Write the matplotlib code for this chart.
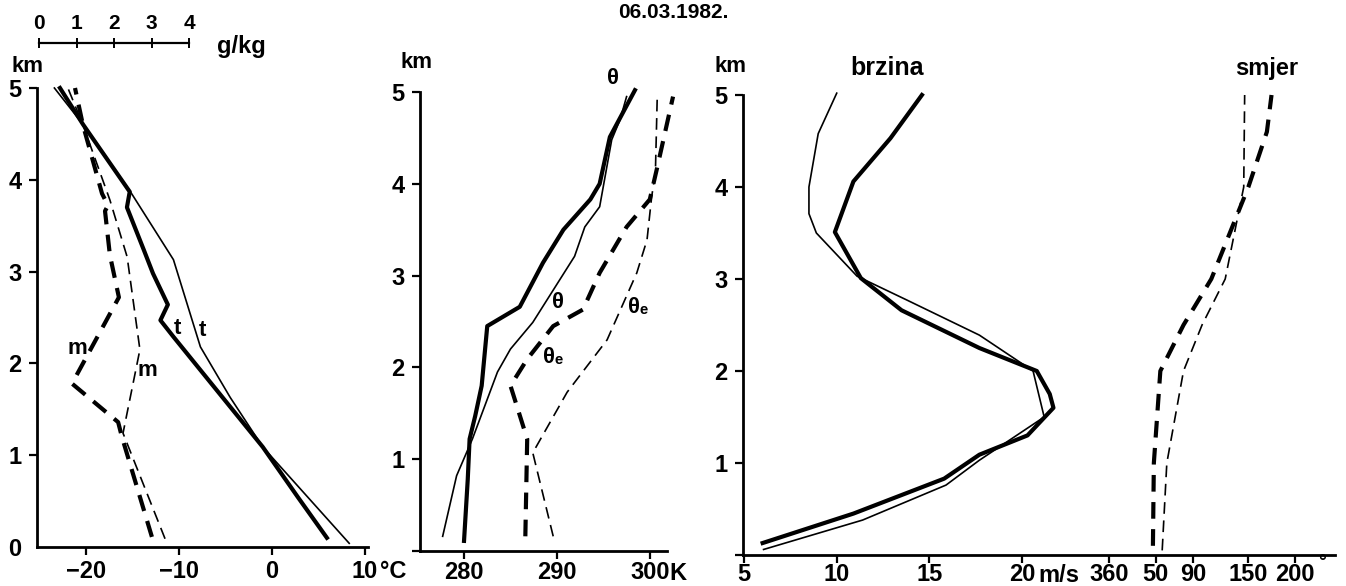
import matplotlib
matplotlib.use("Agg")
import matplotlib.pyplot as plt

# ---------------- data ----------------
# left panel: temperature (deg C) and mixing ratio (g/kg) vs height (km)
z_t_thick = [0.10, 0.54, 1.09, 2.29, 2.47, 2.64, 2.98, 3.24, 3.70, 3.87, 4.60, 5.00]
t_thick = [5.9, 2.8, -1.0, -10.6, -12.0, -11.2, -12.8, -13.8, -15.6, -15.3, -20.3, -22.8]
z_t_thin = [0.04, 1.09, 1.63, 2.18, 3.13, 3.85, 4.60, 5.00]
t_thin = [8.3, -1.0, -4.5, -7.7, -10.6, -15.1, -20.3, -23.4]
z_m_thick = [0.11, 1.20, 1.36, 1.78, 2.72, 3.18, 3.66, 3.72, 3.85, 4.60, 5.00]
m_thick = [3.09, 2.29, 2.19, 0.96, 2.21, 1.97, 1.84, 1.92, 1.76, 1.25, 1.04]
z_m_thin = [0.09, 1.24, 2.15, 3.16, 3.78, 4.60, 5.00]
m_thin = [3.44, 2.32, 2.77, 2.43, 1.97, 1.25, 0.85]

# middle panel: potential temperature (K)
z_th_thick = [0.11, 0.78, 1.22, 1.47, 1.80, 2.45, 2.66, 3.14, 3.50, 3.83, 4.00, 4.51, 5.02]
th_thick = [280.0, 280.4, 280.6, 281.2, 281.9, 282.5, 286.0, 288.5, 290.7, 293.6, 294.6, 295.7, 298.4]
z_th_thin = [0.16, 0.82, 1.22, 1.95, 2.20, 2.49, 3.21, 3.53, 3.75, 4.48, 4.70, 4.95]
th_thin = [277.7, 279.2, 280.9, 283.6, 285.0, 287.4, 291.9, 293.0, 294.6, 295.9, 296.8, 297.5]
z_the_thick = [0.16, 1.22, 1.80, 2.09, 2.45, 2.63, 3.03, 3.53, 3.83, 4.18, 4.95]
the_thick = [286.6, 286.8, 285.0, 286.8, 289.6, 292.8, 294.6, 297.5, 300.0, 300.8, 302.5]
z_the_thin = [0.16, 1.07, 1.73, 2.30, 3.03, 3.39, 3.86, 4.12, 4.95]
the_thin = [289.6, 287.4, 291.1, 295.4, 298.6, 299.7, 300.2, 300.6, 300.8]

# right panel: wind speed (m/s) and direction (deg)
z_v_thick = [0.13, 0.45, 0.83, 1.09, 1.30, 1.60, 1.75, 2.00, 2.25, 2.66, 3.01, 3.51, 4.06, 4.53, 5.00]
v_thick = [6.0, 10.9, 15.8, 17.7, 20.3, 21.7, 21.5, 20.8, 17.7, 13.5, 11.3, 9.9, 10.9, 12.9, 14.6]
z_v_thin = [0.06, 0.38, 0.76, 1.03, 1.50, 2.00, 2.39, 2.77, 3.03, 3.50, 3.71, 4.00, 4.58, 5.02]
v_thin = [6.05, 11.4, 15.9, 17.7, 21.2, 20.6, 17.7, 13.8, 11.1, 8.9, 8.5, 8.5, 9.0, 10.0]
z_d_thick = [0.10, 1.00, 2.00, 2.50, 3.00, 4.00, 4.60, 5.00]
d_thick = [47, 48, 55, 80, 110, 150, 170, 175]
z_d_thin = [0.05, 1.00, 2.00, 2.50, 3.00, 4.00, 5.00]
d_thin = [57, 62, 80, 100, 125, 145, 146]

temp_ticks = [-20, -10, 0, 10]
theta_ticks = [280, 290, 300]
speed_ticks = [5, 10, 15, 20]
dir_ticks = [0, 50, 90, 150, 200]
dir_labels = ["360", "50", "90", "150", "200"]
z_ticks = [0, 1, 2, 3, 4, 5]
scale_ticks = [0, 1, 2, 3, 4]

# ---------------- figure ----------------
W, H = 1346, 586
fig = plt.figure(figsize=(W / 100, H / 100), dpi=100)
FS = 17
FAM = ["Liberation Sans", "DejaVu Sans"]
FONT = dict(family=FAM, weight="bold")


def rect(x0, x1, ytop, ybot):
    return [x0 / W, 1 - ybot / H, (x1 - x0) / W, (ybot - ytop) / H]


def ftext(x, y, s, size=FS, ha="center", **kw):
    fig.text(x / W, 1 - y / H, s, fontsize=size, ha=ha, va="center", **FONT, **kw)


def boldify(ax):
    for lab in ax.get_xticklabels() + ax.get_yticklabels():
        lab.set_fontweight("bold")
        lab.set_family(FAM)


def style(ax, zero=True, xpad=2):
    for s in ("top", "right"):
        ax.spines[s].set_visible(False)
    for s in ("left", "bottom"):
        ax.spines[s].set_linewidth(2.0)
    ax.set_ylim(0, 5)
    ax.set_yticks(z_ticks)
    labels = [str(v) for v in z_ticks]
    if not zero:
        labels[0] = ""
    ax.set_yticklabels(labels)
    ax.tick_params(direction="out", length=6, width=1.6, labelsize=FS)
    ax.tick_params(axis="y", pad=5)
    ax.tick_params(axis="x", pad=xpad)
    boldify(ax)


THICK = 3.0
THIN = 1.2
DASH_THICK = (0, (4, 2.5))
DASH_THIN = (0, (7, 4))

# ---------- left panel ----------
ax1 = fig.add_axes(rect(37, 368, 88, 547))
ax1.plot(t_thick, z_t_thick, color="k", lw=THICK, clip_on=False)
ax1.plot(t_thin, z_t_thin, color="k", lw=THIN, clip_on=False)
ax1.set_xlim(-25.27, 10.32)
ax1.set_xticks(temp_ticks)
style(ax1, xpad=3)
ax1.yaxis.get_major_ticks()[0].tick1line.set_visible(False)
ax1m = ax1.twiny()
ax1m.set_xlim(0.027, 8.85)
ax1m.plot(m_thick, z_m_thick, color="k", lw=THICK, ls=DASH_THICK, clip_on=False)
ax1m.plot(m_thin, z_m_thin, color="k", lw=THIN, ls=DASH_THIN, clip_on=False)
ax1m.axis("off")

# ---------- middle panel ----------
ax2 = fig.add_axes(rect(420, 667, 92, 551))
ax2.plot(th_thick, z_th_thick, color="k", lw=THICK, clip_on=False)
ax2.plot(th_thin, z_th_thin, color="k", lw=THIN, clip_on=False)
ax2.plot(the_thick, z_the_thick, color="k", lw=THICK, ls=DASH_THICK, clip_on=False)
ax2.plot(the_thin, z_the_thin, color="k", lw=THIN, ls=DASH_THIN, clip_on=False)
ax2.set_xlim(275.26, 301.85)
ax2.set_xticks(theta_ticks)
style(ax2, zero=False, xpad=1)

# ---------- right panel ----------
ax3 = fig.add_axes(rect(743, 1335, 95, 555))
ax3.plot(v_thick, z_v_thick, color="k", lw=THICK, clip_on=False)
ax3.plot(v_thin, z_v_thin, color="k", lw=THIN, clip_on=False)
ax3.set_xlim(4.94, 36.9)
ax3.set_xticks(speed_ticks)
style(ax3, zero=False, xpad=0)
ax3d = ax3.twiny()
ax3d.set_xlim(-395.4, 243.5)
ax3d.plot(d_thick, z_d_thick, color="k", lw=THICK, ls=DASH_THICK, clip_on=False)
ax3d.plot(d_thin, z_d_thin, color="k", lw=THIN, ls=DASH_THIN, clip_on=False)
for s in ax3d.spines.values():
    s.set_visible(False)
ax3d.xaxis.set_ticks_position("bottom")
ax3d.xaxis.set_label_position("bottom")
ax3d.set_xticks(dir_ticks)
ax3d.set_xticklabels(dir_labels)
ax3d.tick_params(axis="x", direction="out", length=6, width=1.6, labelsize=FS, pad=0,
                 top=False, bottom=True, labeltop=False, labelbottom=True)
boldify(ax3d)

# ---------- scale bar for mixing ratio ----------
axs = fig.add_axes(rect(39, 189, 43, 43))
axs.set_xlim(0, 4)
axs.set_ylim(0, 1)
for s in ("left", "right", "top"):
    axs.spines[s].set_visible(False)
axs.spines["bottom"].set_linewidth(1.6)
axs.set_yticks([])
axs.set_xticks(scale_ticks)
axs.tick_params(axis="x", direction="inout", length=7, width=1.4, bottom=True, top=False,
                labelbottom=False, labeltop=True, labelsize=15, pad=4)
boldify(axs)

# ---------- texts ----------
ftext(673, 13, "06.03.1982.", size=15)
ftext(241, 46, "g/kg", size=17)
ftext(27, 67, "km", size=16)
ftext(416, 62, "km", size=16)
ftext(731, 66, "km", size=16)
ftext(380, 572, "°C", size=17, ha="left")
ftext(669, 573, "K", size=17, ha="left")
ftext(1038, 575, "m/s", size=17, ha="left")
ftext(1318, 562, "°", size=14, ha="left")
ftext(887, 68, "brzina", size=18)
ftext(1267, 68, "smjer", size=17)
ftext(77, 348, "m", size=16)
ftext(147, 370, "m", size=16)
ftext(177, 328, "t", size=16)
ftext(202, 330, "t", size=16)
ftext(613, 78, "θ", size=16)
ftext(558, 302, "θ", size=16)
ftext(553, 358, "θₑ", size=16)
ftext(638, 307, "θₑ", size=16)

fig.savefig("out.png", dpi=100)
